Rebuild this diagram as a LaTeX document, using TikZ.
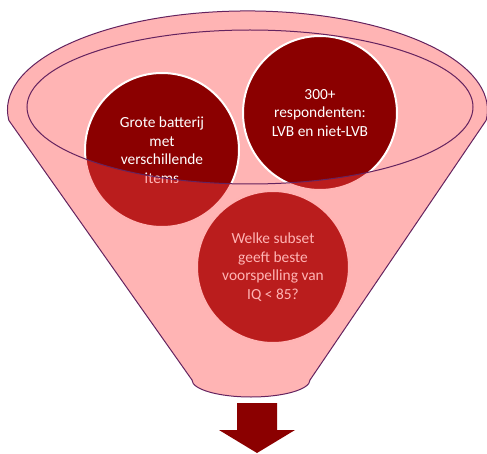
\documentclass[tikz,border=0pt]{standalone}
\usepackage{fontspec}
\setmainfont{Carlito}
\definecolor{funnelpink}{RGB}{255,180,180}
\definecolor{funnelface}{RGB}{255,72,72}
\definecolor{funnelrim}{RGB}{100,35,95}
\definecolor{deepred}{RGB}{139,0,0}
\begin{document}
\begin{tikzpicture}[x=1pt,y=1pt,
  bubble/.style={circle,fill=deepred,draw=white,line width=2pt,minimum size=154pt,
    inner sep=0pt,align=center,text=white,font=\fontsize{15.4}{18.5}\selectfont},
  rim/.style={draw=funnelrim,line width=1pt}]
 \useasboundingbox (0,0) rectangle (487,453);
 \fill[funnelpink] (250,346) ellipse[x radius=223,y radius=77];
 \node[bubble] (batterij) at (162,303) {Grote batterij\\met\\verschillende\\items};
 \node[bubble] (respondenten) at (320,340) {300+\\respondenten:\\LVB en niet-LVB};
 \node[bubble,minimum size=152pt] (subset) at (273,186) {Welke subset\\geeft beste\\voorspelling van\\IQ < 85?};
 \fill[funnelface,opacity=0.41,even odd rule]
   (8.8,332.7) arc[start angle=186,end angle=-6,x radius=240,y radius=99]
   -- (310,73) arc[start angle=0,end angle=-180,x radius=59,y radius=17] -- cycle
   (250,346) ellipse[x radius=223,y radius=77];
 \draw[rim] (8.8,332.7) arc[start angle=186,end angle=-6,x radius=240,y radius=99]
   -- (310,73) arc[start angle=0,end angle=-180,x radius=59,y radius=17] -- cycle;
 \draw[rim] (250,346) ellipse[x radius=223,y radius=77];
 \fill[deepred] (237,50) -- (277,50) -- (277,23) -- (295,23) -- (257,0) -- (219,23) -- (237,23) -- cycle;
\end{tikzpicture}
\end{document}
